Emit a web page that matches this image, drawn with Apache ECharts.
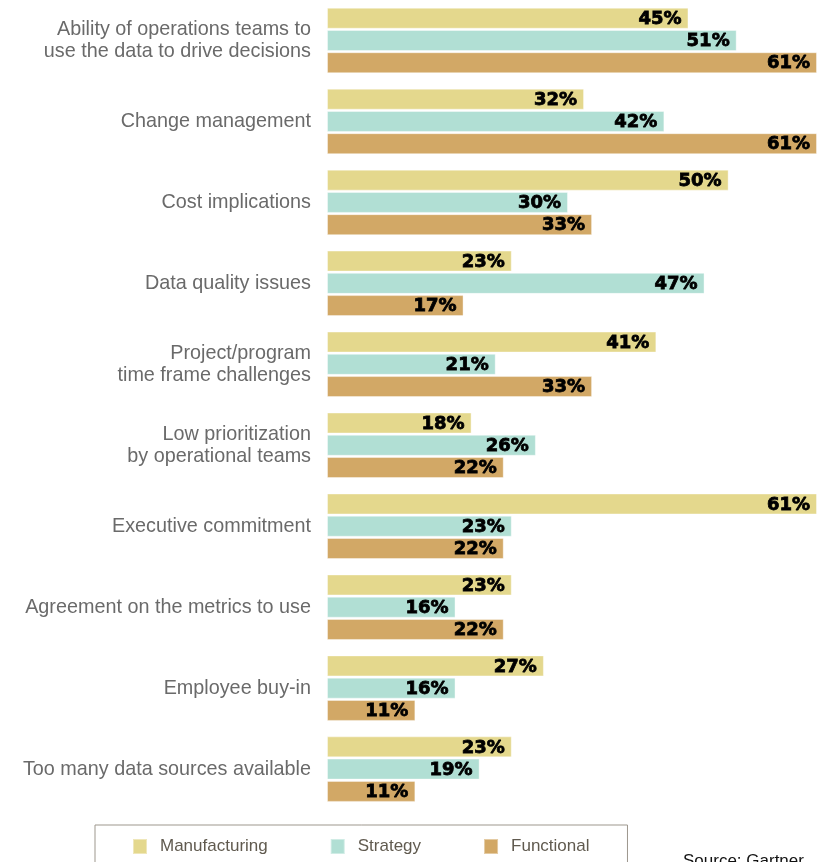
<!DOCTYPE html>
<html>
<head>
<meta charset="utf-8">
<script src="https://cdn.jsdelivr.net/npm/echarts@6/dist/echarts.min.js"></script>
<style>
  html, body { margin: 0; padding: 0; background: #ffffff; }
  #chart { width: 823px; height: 862px; }
</style>
</head>
<body>
<div id="chart"></div>
<script>
// Barriers to adopting operational data, by respondent group (percent)
const categories = [
  'Ability of operations teams to\nuse the data to drive decisions',
  'Change management',
  'Cost implications',
  'Data quality issues',
  'Project/program\ntime frame challenges',
  'Low prioritization\nby operational teams',
  'Executive commitment',
  'Agreement on the metrics to use',
  'Employee buy-in',
  'Too many data sources available'
];
const manufacturing = [45, 32, 50, 23, 41, 18, 61, 23, 27, 23];
const strategy      = [51, 42, 30, 47, 21, 26, 23, 16, 16, 19];
const functional    = [61, 61, 33, 17, 33, 22, 22, 22, 11, 11];
const seriesNames = ['Manufacturing', 'Strategy', 'Functional'];
const colors = ['#e4d88d', '#b1dfd4', '#d2a866'];

const chart = echarts.init(document.getElementById('chart'), null, { renderer: 'canvas' });

function barSeries(name, data, color) {
  return {
    name: name,
    type: 'bar',
    data: data,
    barWidth: 21,
    barGap: '6%',
    itemStyle: { color: color, borderColor: 'rgba(255,255,255,0.4)', borderWidth: 1 },
    label: {
      show: true,
      position: 'insideRight',
      distance: 7,
      offset: [0, 1],
      formatter: '{c}%',
      color: '#000000',
      fontFamily: 'DejaVu Sans',
      fontWeight: 'bold',
      fontSize: 18,
      textBorderColor: '#000000',
      textBorderWidth: 0.8
    },
    emphasis: { disabled: true },
    animation: false
  };
}

chart.setOption({
  backgroundColor: '#ffffff',
  animation: false,
  grid: { left: 327, right: 6, top: -1, height: 810.6, containLabel: false },
  xAxis: {
    type: 'value',
    min: 0,
    max: 61,
    show: false
  },
  yAxis: {
    type: 'category',
    data: categories,
    inverse: true,
    axisLine: { show: false },
    axisTick: { show: false },
    splitLine: { show: false },
    axisLabel: {
      margin: 16,
      color: '#6a6a6a',
      fontFamily: 'Liberation Sans',
      fontSize: 19.8,
      lineHeight: 22,
      align: 'right'
    }
  },
  legend: {
    data: seriesNames,
    left: 95,
    top: 825,
    padding: [13, 38, 30, 37],
    borderColor: '#9d978d',
    borderWidth: 1,
    itemWidth: 14,
    itemHeight: 15,
    itemGap: 62,
    icon: 'rect',
    selectedMode: false,
    textStyle: {
      color: '#605a4f',
      fontFamily: 'Liberation Sans',
      fontSize: 17,
      padding: [0, 0, 0, 8]
    }
  },
  graphic: [{
    type: 'text',
    left: 683,
    top: 853,
    style: {
      text: 'Source: Gartner',
      fill: '#111111',
      font: '17px "Liberation Sans"'
    }
  }],
  series: [
    barSeries(seriesNames[0], manufacturing, colors[0]),
    barSeries(seriesNames[1], strategy, colors[1]),
    barSeries(seriesNames[2], functional, colors[2])
  ]
});
</script>
</body>
</html>
